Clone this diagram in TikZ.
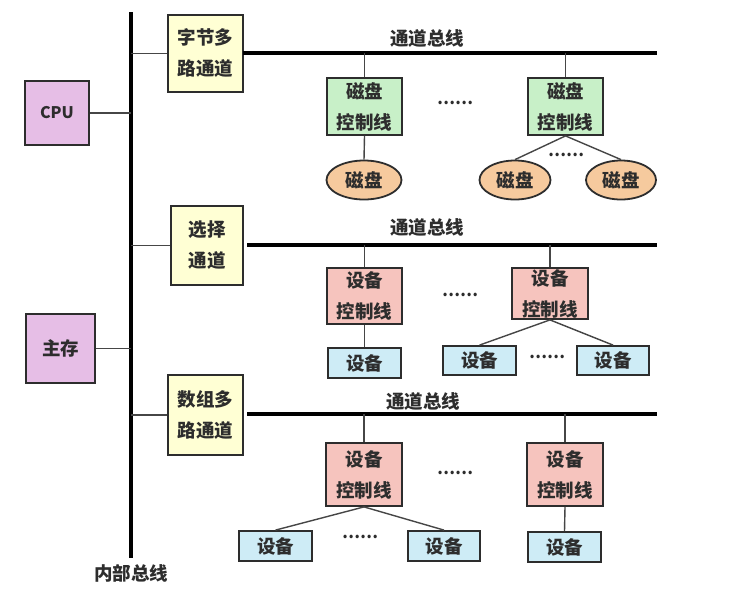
\documentclass[tikz,border=0pt]{standalone}
\usepackage{fontspec}
\setmainfont{Noto Sans CJK SC}
\usetikzlibrary{shapes.geometric}
\definecolor{edgec}{RGB}{45,45,45}
\definecolor{linec}{RGB}{70,70,70}
\definecolor{txt}{RGB}{45,45,45}
\definecolor{purplef}{RGB}{230,190,230}
\definecolor{yellowf}{RGB}{255,255,212}
\definecolor{greenf}{RGB}{200,240,200}
\definecolor{pinkf}{RGB}{246,196,190}
\definecolor{bluef}{RGB}{206,236,246}
\definecolor{orangef}{RGB}{246,202,158}
\begin{document}
\begin{tikzpicture}[x=1pt,y=-1pt,
  box/.style={draw=edgec, line width=1.8pt, inner sep=0pt, align=center, text=txt,
    font=\fontsize{18.5}{31}\selectfont\bfseries},
  cpubox/.style={box, fill=purplef},
  chbox/.style={box, fill=yellowf},
  dcbox/.style={box, fill=greenf},
  ecbox/.style={box, fill=pinkf},
  devbox/.style={box, fill=bluef},
  diskell/.style={box, ellipse, fill=orangef},
  lbl/.style={inner sep=0pt, text=txt, font=\fontsize{18.5}{20}\selectfont\bfseries},
  dotl/.style={inner sep=0pt, text=txt, font=\fontsize{16}{18}\selectfont\bfseries},
  conn/.style={draw=linec, line width=1.4pt},
  ibus/.style={draw=black, line width=4pt},
  cbus/.style={draw=black, line width=3.5pt}
]
\useasboundingbox (0,0) rectangle (743,589);
\fill[white] (0,0) rectangle (743,589);

% internal bus
\coordinate (ibt) at (131,12);
\coordinate (ibb) at (131,558);
\draw[ibus] (ibt) -- (ibb);
\node[lbl] (iblabel) at (131,573) {内部总线};

% CPU and memory
\node[cpubox, minimum width=64pt, minimum height=64pt, font=\fontsize{16}{18}\selectfont\bfseries] (cpu) at (57,113) {CPU};
\node[cpubox, minimum width=69pt, minimum height=69pt] (mem) at (60.5,348.5) {主存};
\draw[conn] (cpu.east) -- (cpu.east -| ibt);
\draw[conn] (mem.east) -- (mem.east -| ibt);

% channels
\node[chbox, minimum width=75pt, minimum height=77pt] (ch1) at (205.5,53.5) {字节多\\路通道};
\node[chbox, minimum width=72pt, minimum height=79pt] (ch2) at (207,245.5) {选择\\通道};
\node[chbox, minimum width=75pt, minimum height=80pt] (ch3) at (205.5,415) {数组多\\路通道};
\draw[conn] (ch1.west) -- (ch1.west -| ibt);
\draw[conn] (ch2.west) -- (ch2.west -| ibt);
\draw[conn] (ch3.west) -- (ch3.west -| ibt);

% channel buses
\coordinate (b1s) at (243,53);  \coordinate (b1e) at (657,53);
\coordinate (b2s) at (247,245); \coordinate (b2e) at (657,245);
\coordinate (b3s) at (247,414); \coordinate (b3e) at (657,414);
\draw[cbus] (b1s) -- (b1e);
\draw[cbus] (b2s) -- (b2e);
\draw[cbus] (b3s) -- (b3e);
\node[lbl] (bl1) at (427,38) {通道总线};
\node[lbl] (bl2) at (427,227) {通道总线};
\node[lbl] (bl3) at (423,401) {通道总线};

% section 1: disks
\node[dcbox, minimum width=75pt, minimum height=57pt] (dc1) at (364.5,106.5) {磁盘\\控制线};
\node[dcbox, minimum width=75pt, minimum height=57pt] (dc2) at (565.5,106.5) {磁盘\\控制线};
\node[diskell, minimum width=75pt, minimum height=39pt] (disk1) at (364,180) {磁盘};
\node[diskell, minimum width=71pt, minimum height=39pt] (disk2) at (515,180) {磁盘};
\node[diskell, minimum width=70pt, minimum height=39pt] (disk3) at (621,180) {磁盘};
\node[dotl] (dots1) at (455,103) {……};
\node[dotl] (dots1b) at (566,155) {……};
\draw[conn] (dc1.north) -- (dc1.north |- b1s);
\draw[conn] (dc2.north) -- (dc2.north |- b1s);
\draw[conn] (dc1.south) -- (disk1.north);
\draw[conn] (dc2.south) -- (disk2.north);
\draw[conn] (dc2.south) -- (disk3.north);

% section 2: selector channel devices
\node[ecbox, minimum width=75pt, minimum height=56pt] (ec1) at (364.5,296) {设备\\控制线};
\node[ecbox, minimum width=76pt, minimum height=51pt] (ec2) at (550,293.5) {设备\\控制线};
\node[devbox, minimum width=73pt, minimum height=30pt] (dv1) at (364.5,363) {设备};
\node[devbox, minimum width=73pt, minimum height=29pt] (dv2) at (479.5,360.5) {设备};
\node[devbox, minimum width=72pt, minimum height=29pt] (dv3) at (613,360.5) {设备};
\node[dotl] (dots2) at (460,295) {……};
\node[dotl] (dots2b) at (547,357) {……};
\draw[conn] (ec1.north) -- (ec1.north |- b2s);
\draw[conn] (ec2.north) -- (ec2.north |- b2s);
\draw[conn] (ec1.south) -- (dv1.north);
\draw[conn] (ec2.south) -- (dv2.north);
\draw[conn] (ec2.south) -- (dv3.north);

% section 3: block multiplexor channel devices
\node[ecbox, minimum width=76pt, minimum height=63pt] (fc1) at (364,474.5) {设备\\控制线};
\node[ecbox, minimum width=76pt, minimum height=63pt] (fc2) at (565,474.5) {设备\\控制线};
\node[devbox, minimum width=73pt, minimum height=30pt] (dw1) at (275.5,546) {设备};
\node[devbox, minimum width=72pt, minimum height=30pt] (dw2) at (444,546) {设备};
\node[devbox, minimum width=73pt, minimum height=30pt] (dw3) at (564.5,547) {设备};
\node[dotl] (dots3) at (455,473) {……};
\node[dotl] (dots3b) at (360,537) {……};
\draw[conn] (fc1.north) -- (fc1.north |- b3s);
\draw[conn] (fc2.north) -- (fc2.north |- b3s);
\draw[conn] (fc1.south) -- (dw1.north);
\draw[conn] (fc1.south) -- (dw2.north);
\draw[conn] (fc2.south) -- (dw3.north);
\end{tikzpicture}
\end{document}
